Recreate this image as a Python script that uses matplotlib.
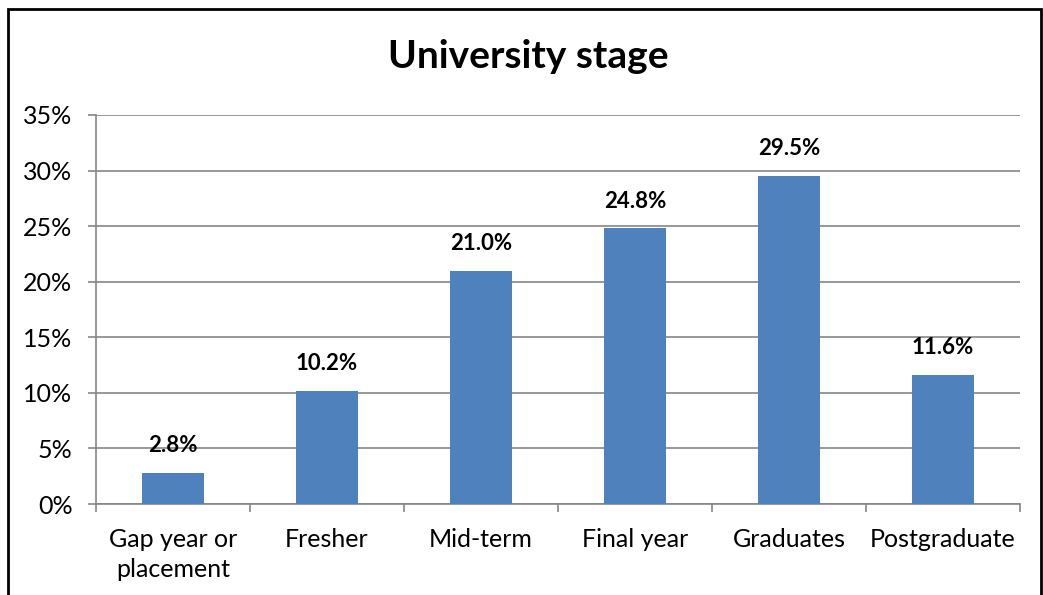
import matplotlib
matplotlib.use("Agg")
import matplotlib.pyplot as plt
from matplotlib.patches import Rectangle
from matplotlib.ticker import MultipleLocator, FuncFormatter

## data
stages = ["Gap year or\nplacement", "Fresher", "Mid-term", "Final year", "Graduates", "Postgraduate"]
shares = [2.8, 10.2, 21.0, 24.8, 29.5, 11.6]

BAR_COLOR = "#4F81BD"
GRID_COLOR = "#868686"

plt.rcParams["font.family"] = ["Lato", "DejaVu Sans"]

fig = plt.figure(figsize=(10.43, 5.95), dpi=100)
ax = fig.add_axes([96 / 1043, 1 - 504 / 595, (1020 - 96) / 1043, (504 - 115) / 595])

# outer chart border (Excel style)
fig.patches.append(Rectangle((8 / 1043, -0.01), 1033 / 1043, 1 - 9 / 595 + 0.01,
                             transform=fig.transFigure, fill=False,
                             edgecolor="black", linewidth=2))

x = list(range(len(stages)))
ax.bar(x, shares, width=0.4, color=BAR_COLOR, zorder=3)

for xi, v in zip(x, shares):
    ax.annotate("%.1f%%" % v, (xi, v), xytext=(0, 12), textcoords="offset points",
                ha="center", va="bottom", fontsize=16, fontweight="bold")

ax.set_xlim(-0.5, len(stages) - 0.5)
ax.set_ylim(0, 35)
ax.yaxis.set_major_locator(MultipleLocator(5))
ax.yaxis.set_major_formatter(FuncFormatter(lambda v, p: "%d%%" % v))
ax.grid(axis="y", color=GRID_COLOR, linewidth=1.2, zorder=0)

ax.set_xticks([i - 0.5 for i in range(len(stages) + 1)])
ax.set_xticklabels([])
ax.set_xticks(x, minor=True)
ax.set_xticklabels(stages, minor=True, fontsize=18, linespacing=1.4)
ax.tick_params(axis="x", which="major", length=6, color=GRID_COLOR, width=1.2)
ax.tick_params(axis="x", which="minor", length=0, pad=17)
ax.tick_params(axis="y", length=6, color=GRID_COLOR, width=1.2, labelsize=18, pad=11)

for s in ["top", "right"]:
    ax.spines[s].set_visible(False)
for s in ["left", "bottom"]:
    ax.spines[s].set_color(GRID_COLOR)
    ax.spines[s].set_linewidth(1.2)

fig.text(528 / 1043, 1 - 57 / 595, "University stage", ha="center", va="center",
         fontsize=28, fontweight="bold")

fig.savefig("out.png", dpi=100)
